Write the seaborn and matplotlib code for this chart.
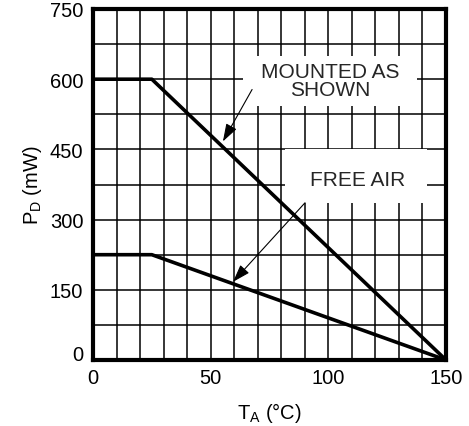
import matplotlib
matplotlib.use("Agg")
import matplotlib.pyplot as plt
from matplotlib.patches import Rectangle
import seaborn as sns
import pandas as pd

# Data
temp_mounted = [0, 25, 150]
power_mounted = [600, 600, 0]
temp_free = [0, 25, 150]
power_free = [225, 225, 0]
x_ticks = [0, 50, 100, 150]
y_ticks = [0, 150, 300, 450, 600, 750]
label_mounted = "MOUNTED AS\nSHOWN"
label_free = "FREE AIR"

sns.set_theme(style="white")
plt.rcParams['font.family'] = ['Liberation Sans', 'DejaVu Sans']
plt.rcParams['mathtext.default'] = 'regular'

fig = plt.figure(figsize=(4.69, 4.27), dpi=100)
ax = fig.add_axes([93/469, 1 - 361/427, 353/469, 351/427])

df = pd.concat([
    pd.DataFrame({"T": temp_mounted, "P": power_mounted, "s": "mounted"}),
    pd.DataFrame({"T": temp_free, "P": power_free, "s": "free"}),
])
sns.lineplot(data=df, x="T", y="P", units="s", estimator=None, sort=False,
             color="black", lw=2.6, ax=ax, zorder=3, legend=False)

ax.set_xlim(0, 150)
ax.set_ylim(0, 750)
ax.set_xticks(range(0, 151, 10))
ax.set_yticks(range(0, 751, 75))
ax.grid(True, color="black", lw=1.1, zorder=1)
ax.set_axisbelow(True)
ax.set_xticklabels([str(v) if v in x_ticks else "" for v in range(0, 151, 10)])
ax.set_yticklabels([str(v) if v in y_ticks else "" for v in range(0, 751, 75)])
ax.tick_params(axis="both", length=0, labelsize=14.5, colors="black")
ax.tick_params(axis="x", pad=6)
ax.tick_params(axis="y", pad=7)
ax.get_yticklabels()[0].set_va("baseline")
for s in ax.spines.values():
    s.set_color("black")
    s.set_linewidth(3)

ax.set_xlabel("T$_{A}$ (°C)", fontsize=14.5, labelpad=9, color="black")
ax.set_ylabel("P$_{D}$ (mW)", fontsize=14.5, labelpad=4, color="black")

# white boxes behind the labels (cover the grid)
ax.add_patch(Rectangle((63.7, 542), 74, 107, fc="white", ec="none", zorder=2))
ax.add_patch(Rectangle((81.6, 335), 60.4, 115, fc="white", ec="none", zorder=2))

ax.text(100.7, 597, label_mounted, ha="center", va="center", fontsize=15,
        linespacing=0.9, zorder=4)
ax.text(112.4, 386, label_free, ha="center", va="center", fontsize=15, zorder=4)

arrow = dict(arrowstyle="-|>,head_length=0.9,head_width=0.3", lw=0.8, color="black",
             shrinkA=0, shrinkB=0)
ax.annotate("", xy=(55.2, 467), xytext=(67.6, 578), arrowprops=arrow, zorder=5)
ax.annotate("", xy=(59.5, 167), xytext=(90.1, 336), arrowprops=arrow, zorder=5)

fig.savefig("out.png", dpi=100)
